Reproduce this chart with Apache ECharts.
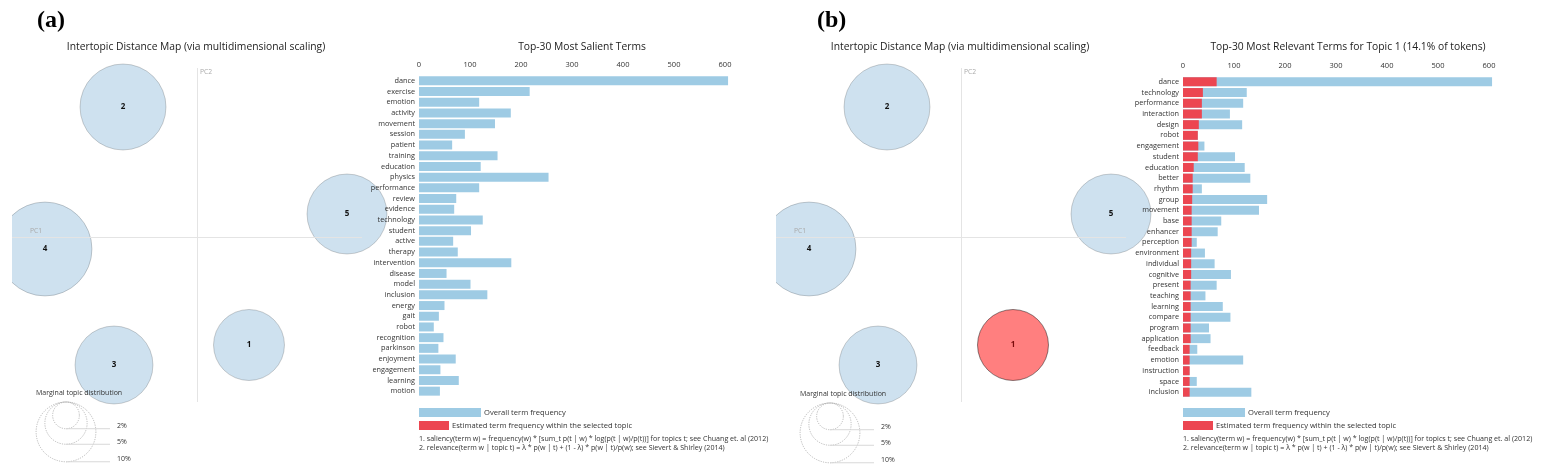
<!DOCTYPE html>
<html>
<head>
<meta charset="utf-8">
<script src="https://cdn.jsdelivr.net/npm/echarts@6/dist/echarts.min.js"></script>
<style>
html,body{margin:0;padding:0;background:#fff;}
#main{width:1542px;height:473px;}
</style>
</head>
<body>
<div id="main"></div>
<script>
// topics on the intertopic map
var topic_ids = ['1', '2', '3', '4', '5'];
var topic_pc1 = [0.104, -0.148, -0.166, -0.304, 0.300];
var topic_pc2 = [-0.216, 0.260, -0.256, -0.024, 0.046];
var topic_share = [14.1, 20.7, 17.0, 24.7, 17.9];   // % of tokens
var marginal_ticks = [10, 5, 2];

// (a) top-30 most salient terms
var salient_terms = ['dance', 'exercise', 'emotion', 'activity', 'movement', 'session', 'patient', 'training', 'education', 'physics',
	'performance', 'review', 'evidence', 'technology', 'student', 'active', 'therapy', 'intervention', 'disease', 'model',
	'inclusion', 'energy', 'gait', 'robot', 'recognition', 'parkinson', 'enjoyment', 'engagement', 'learning', 'motion'];
var salient_freq = [606, 217, 118, 180, 149, 90, 65, 154, 121, 254,
	118, 73, 69, 125, 102, 67, 76, 181, 54, 101,
	134, 50, 39, 29, 48, 38, 72, 42, 78, 41];

// (b) top-30 most relevant terms for topic 1
var relevant_terms = ['dance', 'technology', 'performance', 'interaction', 'design', 'robot', 'engagement', 'student', 'education', 'better',
	'rhythm', 'group', 'movement', 'base', 'enhancer', 'perception', 'environment', 'individual', 'cognitive', 'present',
	'teaching', 'learning', 'compare', 'program', 'application', 'feedback', 'emotion', 'instruction', 'space', 'inclusion'];
var relevant_freq = [606, 125, 118, 92, 116, 29, 42, 102, 121, 132,
	37, 165, 149, 75, 68, 27, 43, 62, 94, 66,
	44, 78, 93, 51, 54, 28, 118, 13, 27, 134];
var relevant_topic_freq = [66, 39, 37, 37, 31, 29, 30, 29, 21, 19,
	19, 18, 17, 17, 17, 17, 16, 16, 16, 15,
	15, 15, 15, 15, 15, 13, 13, 13, 13, 13];

var FONT = '"Open Sans", "Noto Sans", sans-serif';
var R_SCALE = 9.45;          // px of radius per sqrt(% of tokens)
var PANEL_B = 764;           // horizontal offset of panel (b)
var MAP_X = [-0.37, 0.43], MAP_Y = [-0.352, 0.338];
var PC1_LINE = [-0.37, 0.33], PC2_LINE = [-0.33, 0.338];
var BLUE = '#9ecbe4', RED = '#ec4651';
var NAME_ALL = 'Overall term frequency';
var NAME_TOPIC = 'Estimated term frequency within the selected topic';

function topic_data(selected){
	var out = [];
	for (var i = 0; i < topic_ids.length; i++){
		var item = {value: [topic_pc1[i], topic_pc2[i], topic_share[i], topic_ids[i]]};
		if (topic_ids[i] === selected){
			item.itemStyle = {color: 'rgba(255,0,0,0.5)', borderColor: 'rgba(0,0,0,0.45)'};
			item.label = {color: '#7a0c0c'};
		}
		out.push(item);
	}
	return out;
}

function map_series(idx, selected){
	return {
		type: 'scatter', xAxisIndex: idx, yAxisIndex: idx, z: 1,
		data: topic_data(selected),
		symbolSize: function(v){ return 2 * R_SCALE * Math.sqrt(v[2]); },
		itemStyle: {color: 'rgba(31,119,180,0.22)', borderColor: 'rgba(0,0,0,0.18)', borderWidth: 1, opacity: 1},
		label: {show: true, position: 'inside', formatter: function(p){ return p.value[3]; },
			color: '#111', fontWeight: 'bold', fontSize: 8, fontFamily: FONT},
		emphasis: {disabled: true},
		markLine: {
			silent: true, symbol: ['none', 'none'], animation: false,
			label: {show: false},
			lineStyle: {color: '#e4e4e4', width: 1, type: 'solid'},
			data: [
				[{coord: [PC1_LINE[0], 0]}, {coord: [PC1_LINE[1], 0]}],
				[{coord: [0, PC2_LINE[0]]}, {coord: [0, PC2_LINE[1]]}]
			]
		}
	};
}

function render_marginal(params, api){
	var pct = api.value(2);
	var top = api.coord([0, 0]);
	var r = R_SCALE * Math.sqrt(pct);
	var yb = top[1] + 2 * r;
	return {type: 'group', children: [
		{type: 'circle', shape: {cx: top[0], cy: top[1] + r, r: r},
			style: {fill: 'none', stroke: '#aaa', lineWidth: 0.8, lineDash: [1.2, 1.2]}},
		{type: 'line', shape: {x1: top[0], y1: yb, x2: top[0] + 44, y2: yb},
			style: {stroke: '#d8d8d8', lineWidth: 1}},
		{type: 'text', x: top[0] + 51, y: yb - 2.5,
			style: {text: pct + '%', fill: '#333', fontSize: 7, fontFamily: FONT, verticalAlign: 'middle', textVerticalAlign: 'middle'}}
	]};
}

function marginal_series(idx){
	return {
		type: 'custom', xAxisIndex: idx, yAxisIndex: idx, clip: false, silent: true, z: 3,
		renderItem: render_marginal,
		data: marginal_ticks.map(function(p){ return [0, 0, p]; })
	};
}

function text(x, y, str, size, extra){
	var st = {text: str, fill: '#333', fontSize: size, fontFamily: FONT,
		align: 'left', textAlign: 'left', verticalAlign: 'middle', textVerticalAlign: 'middle'};
	for (var k in extra) st[k] = extra[k];
	return {type: 'text', x: x, y: y, z: 10, silent: true, style: st};
}
function ctext(x, y, str, size){
	return text(x, y, str, size, {align: 'center', textAlign: 'center', fill: '#222'});
}

var grids = [], xAxes = [], yAxes = [], series = [], graphics = [], legends = [];

[0, 1].forEach(function(p){
	var dx = p * PANEL_B;
	var base = p * 3;
	// map, bars, marginal legend
	grids.push({left: 12 + dx, top: 68, width: 400, height: 345});
	grids.push({left: 419 + dx, top: 75.5 + p, width: 306, height: 321});
	grids.push({left: 56 + dx, top: 392 + p, width: 20, height: 20});

	xAxes.push({gridIndex: base, type: 'value', min: MAP_X[0], max: MAP_X[1], show: false});
	yAxes.push({gridIndex: base, type: 'value', min: MAP_Y[0], max: MAP_Y[1], show: false});

	xAxes.push({gridIndex: base + 1, type: 'value', position: 'top', min: 0, max: 600, interval: 100,
		axisLine: {show: false}, axisTick: {show: false}, splitLine: {show: false},
		axisLabel: {color: '#333', fontSize: 7.5, fontFamily: FONT, margin: 7}});
	yAxes.push({gridIndex: base + 1, type: 'category', inverse: true, z: 5,
		data: p === 0 ? salient_terms : relevant_terms,
		axisLine: {show: false}, axisTick: {show: false},
		axisLabel: {color: '#333', fontSize: 7.3, fontFamily: FONT, margin: 4, interval: 0}});

	xAxes.push({gridIndex: base + 2, type: 'value', min: -1, max: 1, show: false});
	yAxes.push({gridIndex: base + 2, type: 'value', min: -1, max: 1, show: false});

	series.push(map_series(base, p === 1 ? '1' : null));
	series.push({type: 'bar', name: NAME_ALL, xAxisIndex: base + 1, yAxisIndex: base + 1, clip: false,
		data: p === 0 ? salient_freq : relevant_freq, barCategoryGap: '16%', barGap: '-100%',
		itemStyle: {color: BLUE}, emphasis: {disabled: true}, silent: true});
	series.push({type: 'bar', name: NAME_TOPIC, xAxisIndex: base + 1, yAxisIndex: base + 1, clip: false,
		data: p === 0 ? [] : relevant_topic_freq, barCategoryGap: '16%', barGap: '-100%',
		itemStyle: {color: RED}, emphasis: {disabled: true}, silent: true});
	series.push(marginal_series(base + 2));

	legends.push({data: [NAME_ALL], left: 419 + dx, top: 408, itemWidth: 62, itemHeight: 9, itemGap: 0,
		icon: 'rect', selectedMode: false, padding: 0, itemStyle: {borderWidth: 0},
		textStyle: {color: '#333', fontSize: 7.6, fontFamily: FONT, padding: [0, 0, 0, -2]}});
	legends.push({data: [NAME_TOPIC], left: 419 + dx, top: 421, itemWidth: 30, itemHeight: 9, itemGap: 0,
		icon: 'rect', selectedMode: false, padding: 0, itemStyle: {borderWidth: 0},
		textStyle: {color: '#333', fontSize: 7.6, fontFamily: FONT, padding: [0, 0, 0, -2]}});

	// the screenshot is cropped at the map's left edge
	graphics.push({type: 'rect', z: 5, silent: true, shape: {x: dx - 20, y: 60, width: 32, height: 300}, style: {fill: '#fff'}});

	graphics.push(text(37 + dx + p * 16, 21, p === 0 ? '(a)' : '(b)', 24,
		{fill: '#000', fontWeight: 'bold', fontFamily: '"Liberation Serif", "DejaVu Serif", serif'}));
	graphics.push(ctext(196 + dx, 47, 'Intertopic Distance Map (via multidimensional scaling)', 10.3));
	graphics.push(ctext(p === 0 ? 582 : 1348, 47.5, p === 0 ? 'Top-30 Most Salient Terms' : 'Top-30 Most Relevant Terms for Topic 1 (14.1% of tokens)', 10.3));
	graphics.push(text(200 + dx, 72, 'PC2', 6.8, {fill: '#aaa'}));
	graphics.push(text(30 + dx, 231, 'PC1', 6.8, {fill: '#aaa'}));
	graphics.push(text(36 + dx, 393 + p, 'Marginal topic distribution', 7, {fill: '#333'}));
	graphics.push(text(419 + dx, 439, '1. saliency(term w) = frequency(w) * [sum_t p(t | w) * log(p(t | w)/p(t))] for topics t; see Chuang et. al (2012)', 7.1));
	graphics.push(text(419 + dx, 448, '2. relevance(term w | topic t) = \u03bb * p(w | t) + (1 - \u03bb) * p(w | t)/p(w); see Sievert & Shirley (2014)', 7.1));
});

var chart = echarts.init(document.getElementById('main'));
chart.setOption({
	animation: false,
	backgroundColor: '#fff',
	grid: grids,
	xAxis: xAxes,
	yAxis: yAxes,
	legend: legends,
	series: series,
	graphic: graphics
});
</script>
</body>
</html>
